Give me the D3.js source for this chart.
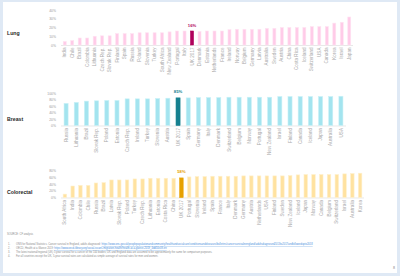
<!DOCTYPE html>
<html>
<head>
<meta charset="utf-8">
<script src="https://cdn.jsdelivr.net/npm/d3@7"></script>
<style>
  body { margin: 0; background: #dfe9f5; }
  text { font-family: "Liberation Sans", Arial, sans-serif; }
  .tick_text { font-size: 3.4px; fill: #999999; }
  .country_text { font-size: 4.6px; fill: #a8a8a8; }
  .panel_text { font-size: 5.2px; font-weight: bold; fill: #262626; }
  .note_text { font-size: 2.6px; fill: #8c8c8c; }
  .link_text { font-size: 2.6px; fill: #4a90dc; }
</style>
</head>
<body>
<div id="chart"></div>
<script>
// lung
const lungCountries = ["India","Chile","Brazil","Colombia","Lithuania","Czech Rep.","Slovak Rep.","Finland","Spain","Russia","Poland","Slovenia","Turkey","South Africa","New Zealand","Portugal","Italy","UK 2017","Denmark","Estonia","Netherlands","France","Ireland","Norway","Belgium","Germany","Latvia","Australia","Sweden","Austria","China","Costa Rica","Iceland","Switzerland","USA","Canada","Korea","Israel","Japan"]
const lungValues = [4,5,8,8,10,10.5,10.5,13,13,13,14,14,14,14,15,16,16,16,15.5,16,16,16,17.5,18,18,18,18,19,19,20,20,20,20,21,21,21,25,26,32]
const lungTicks = [0,10,20,30,40]

// breast
const breastCountries = ["Russia","Lithuania","Brazil","Slovak Rep.","Poland","Estonia","Czech Rep.","Ireland","Turkey","Slovenia","Austria","UK 2017","Spain","Germany","Italy","Denmark","Switzerland","Belgium","Norway","Portugal","New Zealand","Israel","Finland","Canada","Iceland","Japan","Australia","USA"]
const breastValues = [68,71,75,76,77,77,82,82,82,83,84,85,85,86,86,86,87,87,87,87,87,89,89,89,89,89,89,90]
const breastTicks = [0,20,40,60,80,100]

// colorectal
const colorectalCountries = ["South Africa","India","Colombia","Chile","Russia","Brazil","Latvia","Slovak Rep.","Poland","Turkey","Czech Rep.","Lithuania","Estonia","Costa Rica","China","UK 2017","Portugal","Slovenia","Ireland","Spain","France","Italy","Denmark","Germany","Austria","Netherlands","USA","Finland","Sweden","New Zealand","Iceland","Japan","Norway","Canada","Belgium","Switzerland","Israel","Australia","Korea"]
const colorectalValues = [10,34,36,36,43,44,52,52,52,55,55,57,57,57,57,58,61,62,62,63,63,63,63,64,64,64,64,64,64,65,67,68,68,68,68,68,70,71,72]
const colorectalTicks = [0,20,40,60,80]

const notes = [
  ["1.", "ONS for National Statistics. Cancer survival in England, adults diagnosed: ", "https://www.ons.gov.uk/peoplepopulationandcommunity/healthandsocialcare/conditionsanddiseases/bulletins/cancersurvivalinengland/adultsdiagnosed2013to2017andfollowedupto2018"],
  ["2.", "OECD, Health at a Glance 2019: ", "https://www.oecd-ilibrary.org/social-issues-migration-health/health-at-a-glance-2019_4dd50c09-en"],
  ["3.", "The latest national/regional (UK) 5 year survival for a cancer of the 100 bodies; UK and England data are assumed to be approximately the same for comparison purposes.", ""],
  ["4.", "For all countries except the UK, 5-year survival rates are calculated as simple average of survival rates for men and women.", ""]
]

let svg = d3.select("#chart")
  .append("svg")
  .attr("width", 400)
  .attr("height", 276)

// slide page
svg.append("rect").attr("x", 3).attr("y", 2).attr("width", 394).attr("height", 271).style("fill", "#ffffff")

function drawPanel(opts) {
  let x = d3.scaleBand()
    .domain(opts.countries)
    .range([61, opts.right])
    .paddingInner(opts.pad)
    .paddingOuter(opts.pad / 2)
  let y = d3.scaleLinear()
    .domain([0, opts.max])
    .range([opts.base, opts.top])

  let g = svg.append("g")

  // baseline
  g.append("line")
    .attr("x1", 61).attr("x2", opts.right)
    .attr("y1", opts.base + 0.5).attr("y2", opts.base + 0.5)
    .style("stroke", "#d9d9d9").style("stroke-width", 0.6)

  // y axis labels
  let yAxis = d3.axisLeft(y).tickValues(opts.ticks).tickSize(0).tickFormat(d => d + "%")
  let ya = g.append("g").attr("transform", "translate(56,0)").call(yAxis)
  ya.select(".domain").remove()
  ya.selectAll("text").attr("class", "tick_text").attr("font-family", null).attr("font-size", null).attr("fill", null).attr("x", 0)

  // bars
  g.selectAll(".bar")
    .data(opts.values)
    .enter()
    .append("rect")
    .attr("x", (d, i) => x(opts.countries[i]))
    .attr("y", d => y(d))
    .attr("width", x.bandwidth())
    .attr("height", d => opts.base - y(d))
    .style("fill", (d, i) => opts.countries[i] == "UK 2017" ? opts.dark : opts.fill)
    .style("stroke", (d, i) => opts.countries[i] == "UK 2017" ? opts.dark : opts.edge)
    .style("stroke-width", 0.6)

  // UK value label
  let ukIndex = opts.countries.indexOf("UK 2017")
  g.append("text")
    .attr("x", x("UK 2017") + x.bandwidth() / 2)
    .attr("y", y(opts.values[ukIndex]) - 4.5)
    .attr("text-anchor", "middle")
    .style("font-size", "4.2px").style("font-weight", "bold").style("fill", opts.dark)
    .text(opts.values[ukIndex] + "%")

  // country labels
  g.selectAll(".country")
    .data(opts.countries)
    .enter()
    .append("text")
    .attr("class", "country_text")
    .attr("text-anchor", "end")
    .attr("transform", d => "translate(" + (x(d) + x.bandwidth() / 2 + 1.6) + "," + (opts.base + 2.5) + ") rotate(-90)")
    .text(d => d)

  // panel title
  svg.append("text").attr("x", 7).attr("y", opts.labelY).attr("class", "panel_text").text(opts.title)
}

drawPanel({title: "Lung", labelY: 34.5, countries: lungCountries, values: lungValues, ticks: lungTicks, max: 40,
  base: 45, top: 10, right: 353, pad: 0.6, fill: "#ffcbe8", edge: "#ffe3f2", dark: "#b0005c"})
drawPanel({title: "Breast", labelY: 120.5, countries: breastCountries, values: breastValues, ticks: breastTicks, max: 100,
  base: 125.5, top: 93, right: 346, pad: 0.6, fill: "#a3e4ef", edge: "#c9f1f7", dark: "#16808f"})
drawPanel({title: "Colorectal", labelY: 193.5, countries: colorectalCountries, values: colorectalValues, ticks: colorectalTicks, max: 80,
  base: 197.5, top: 170.5, right: 364, pad: 0.55, fill: "#ffe2a0", edge: "#fff0cc", dark: "#e6a100"})

// footnotes
svg.append("text").attr("x", 7).attr("y", 235).attr("class", "note_text").text("SOURCE: CF analysis")
notes.forEach((n, i) => {
  let t = svg.append("text").attr("y", 245 + i * 4).attr("class", "note_text")
  svg.append("text").attr("x", 8).attr("y", 245 + i * 4).attr("class", "note_text").text(n[0])
  t.attr("x", 16)
  t.append("tspan").text(n[1])
  if (n[2] != "") t.append("tspan").attr("class", "link_text").style("text-decoration", "underline").text(n[2])
})

// page number
svg.append("text").attr("x", 393).attr("y", 269).style("font-size", "3.6px").style("fill", "#7f7f7f").text("8")
</script>
</body>
</html>
